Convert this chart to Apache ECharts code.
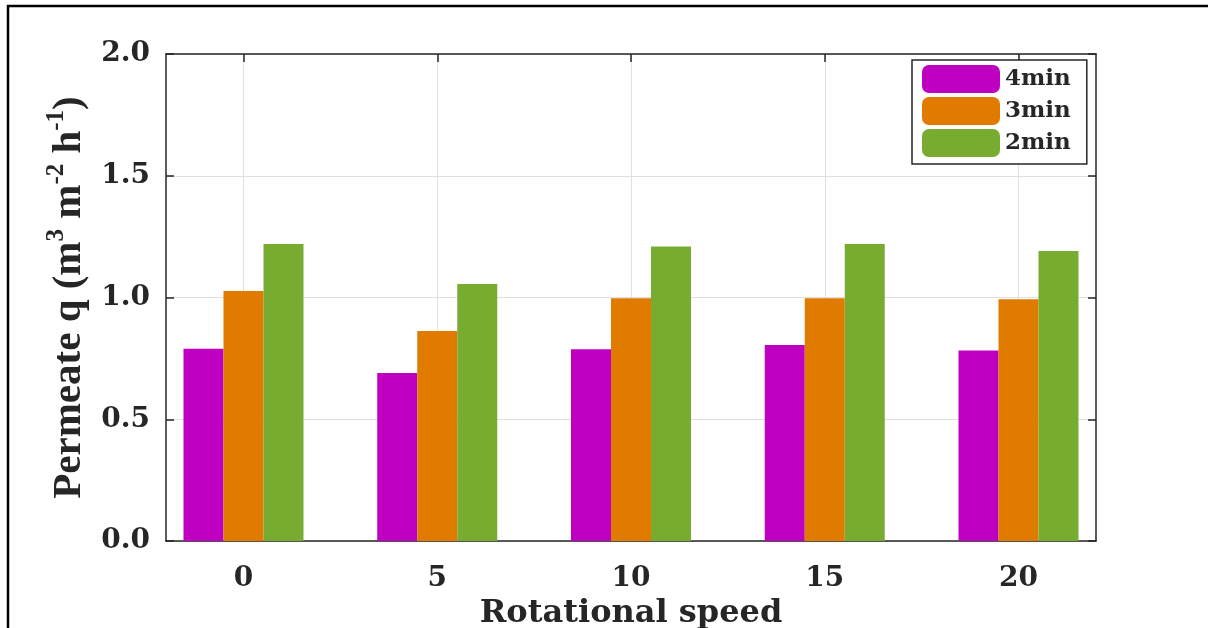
<!DOCTYPE html>
<html>
<head>
<meta charset="utf-8">
<script src="https://cdn.jsdelivr.net/npm/echarts@6/dist/echarts.min.js"></script>
<style>html,body{margin:0;padding:0;background:#fff}#c{width:1208px;height:628px}</style>
</head>
<body>
<div id="c"></div>
<script>
const speeds = [0, 5, 10, 15, 20];
const seriesNames = ['4min', '3min', '2min'];
const q4min = [0.79, 0.69, 0.787, 0.805, 0.782];
const q3min = [1.027, 0.862, 0.997, 0.997, 0.993];
const q2min = [1.22, 1.055, 1.209, 1.22, 1.191];
const yTicks = [0, 0.5, 1.0, 1.5, 2.0];
const colors = ['#C000C0', '#E07B00', '#77AC30'];

const values = [q4min, q3min, q2min];
const chart = echarts.init(document.getElementById('c'), null, {renderer: 'canvas'});
const labelFont = {fontFamily: 'DejaVu Serif', fontWeight: 'bold', color: '#262626'};
const axisLineStyle = {color: '#262626', width: 1.5};

const option = {
  backgroundColor: '#fff',
  animation: false,
  grid: {left: 166, right: 112, top: 54, bottom: 87, show: false, containLabel: false, outerBoundsMode: 'none'},
  legend: {
    orient: 'vertical', left: 912, top: 60,
    itemWidth: 78, itemHeight: 28, itemGap: 4,
    padding: [5, 16, 7, 10],
    icon: 'roundRect',
    backgroundColor: '#fff', borderColor: '#262626', borderWidth: 1.5,
    textStyle: Object.assign({fontSize: 23, letterSpacing: 2}, labelFont),
    data: seriesNames
  },
  xAxis: [{
    type: 'value', min: -2, max: 22, position: 'bottom',
    name: 'Rotational speed', nameLocation: 'middle', nameGap: 56,
    nameTextStyle: Object.assign({fontSize: 32}, labelFont),
    axisLine: {show: true, onZero: false, lineStyle: axisLineStyle},
    axisTick: {show: true, inside: true, length: 8, customValues: speeds, lineStyle: axisLineStyle},
    axisLabel: Object.assign({fontSize: 28, margin: 24, customValues: speeds}, labelFont),
    splitLine: {show: true, lineStyle: {color: '#e0e0e0', width: 1}}
  }, {
    type: 'value', min: -2, max: 22, position: 'top',
    axisLine: {show: true, onZero: false, lineStyle: axisLineStyle},
    axisTick: {show: true, inside: true, length: 8, customValues: speeds, lineStyle: axisLineStyle},
    axisLabel: {show: false},
    splitLine: {show: false}
  }],
  yAxis: [{
    type: 'value', min: 0, max: 2, interval: 0.5, position: 'left',
    name: '{a|Permeate q (m}{s|3}{a| m}{s|-2}{a| h}{s|-1}{a|)}',
    nameLocation: 'middle', nameGap: 76,
    nameTextStyle: {
      rich: {
        a: {fontFamily: 'Liberation Serif', fontWeight: 'bold', fontSize: 41, color: '#262626', lineHeight: 46, verticalAlign: 'bottom'},
        s: {fontFamily: 'Liberation Serif', fontWeight: 'bold', fontSize: 25, color: '#262626', lineHeight: 46, verticalAlign: 'top'}
      }
    },
    axisLine: {show: true, onZero: false, lineStyle: axisLineStyle},
    axisTick: {show: true, inside: true, length: 8, lineStyle: axisLineStyle},
    axisLabel: Object.assign({fontSize: 28, margin: 16, formatter: v => v.toFixed(1)}, labelFont),
    splitLine: {show: true, lineStyle: {color: '#e0e0e0', width: 1}}
  }, {
    type: 'value', min: 0, max: 2, interval: 0.5, position: 'right',
    axisLine: {show: true, onZero: false, lineStyle: axisLineStyle},
    axisTick: {show: true, inside: true, length: 8, lineStyle: axisLineStyle},
    axisLabel: {show: false},
    splitLine: {show: false}
  }],
  series: seriesNames.map((n, i) => ({
    name: n, type: 'bar', xAxisIndex: 0, yAxisIndex: 0,
    barWidth: 40, barGap: '0%',
    itemStyle: {color: colors[i]},
    data: speeds.map((s, j) => [s, values[i][j]])
  })),
  graphic: [{
    type: 'polyline', silent: true,
    shape: {points: [[8, 628], [8, 6], [1208, 6]]},
    style: {stroke: '#000', lineWidth: 2.5, fill: null}
  }]
};
chart.setOption(option);
</script>
</body>
</html>
